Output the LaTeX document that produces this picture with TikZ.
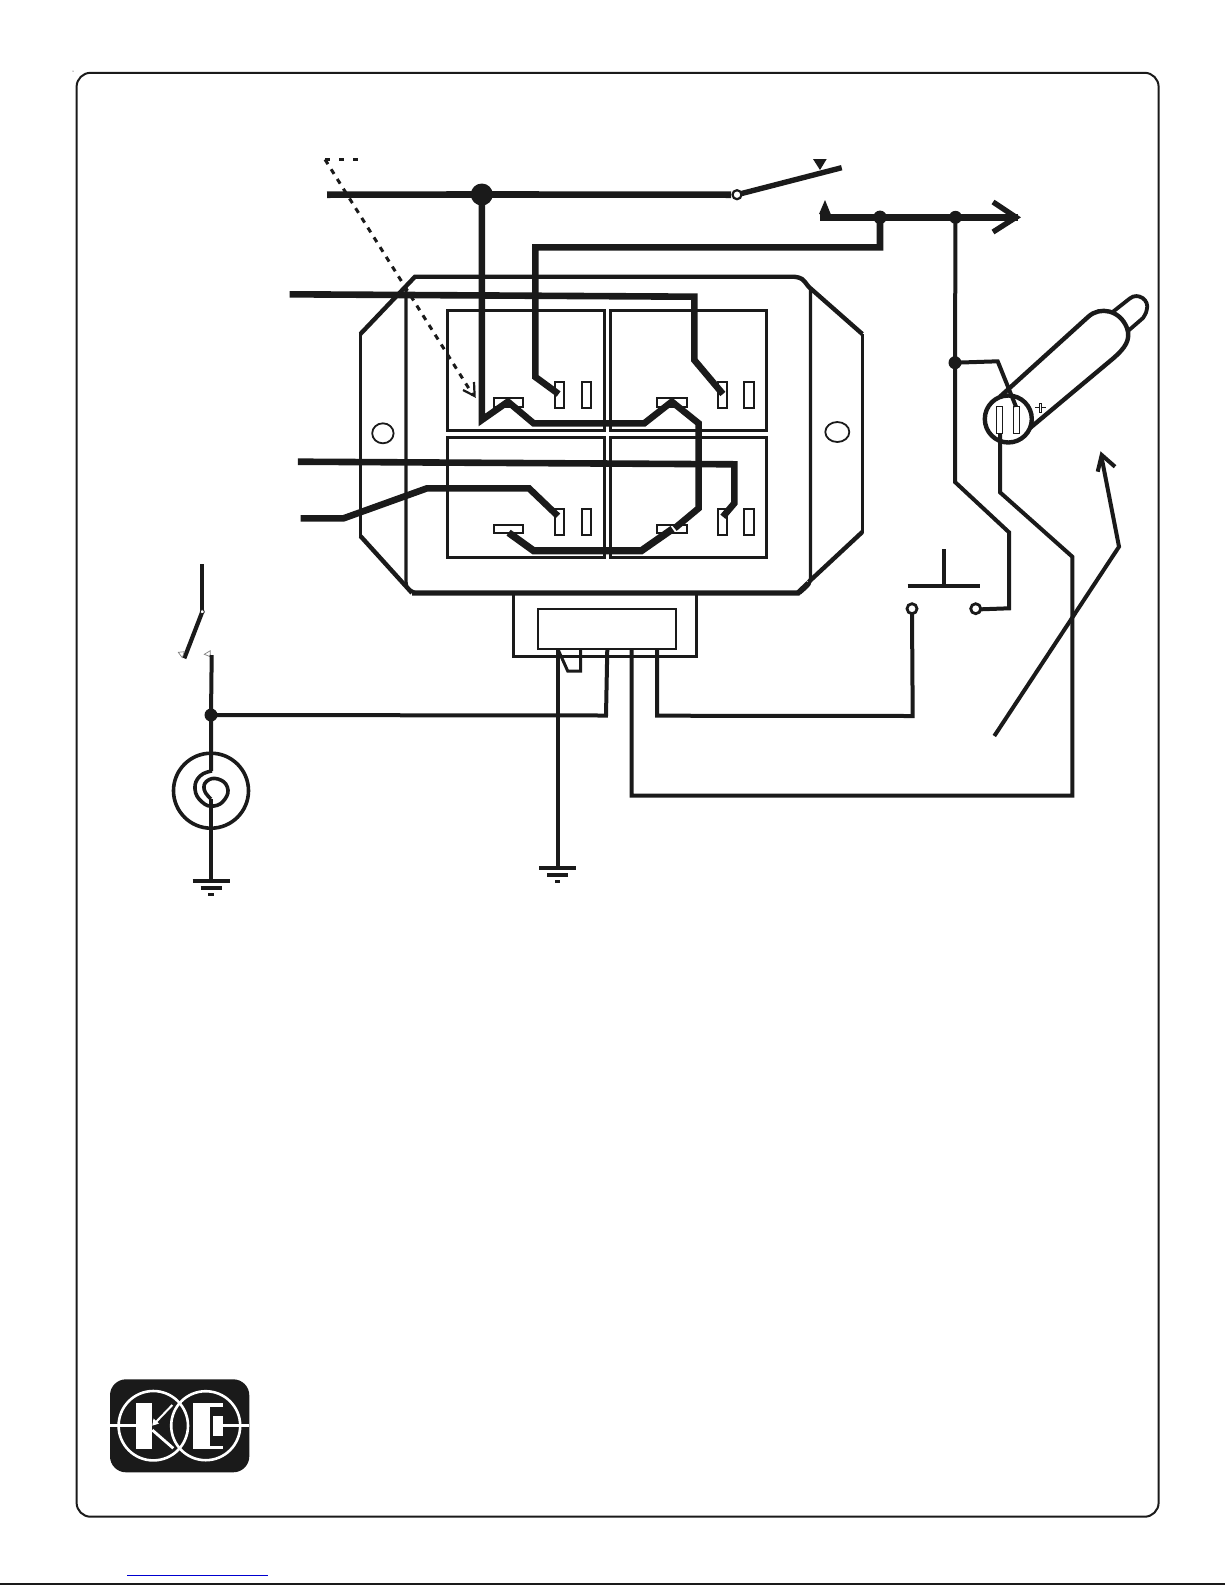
\documentclass[tikz,border=0pt]{standalone}
\usepackage{tikz}
\definecolor{inkblack}{HTML}{1A1A1A}
\definecolor{linkblue}{HTML}{0000D0}
\tikzset{
    wirethick/.style={draw=inkblack,line width=6.6pt},
    wirethin/.style={draw=inkblack,line width=4pt},
    boxline/.style={draw=inkblack,line width=3pt},
    termrect/.style={draw=inkblack,fill=white,line width=2pt},
    dotjunc/.style={circle,fill=inkblack,inner sep=0pt,minimum size=13.5pt},
    ringterm/.style={circle,draw=inkblack,fill=white,line width=2.8pt,inner sep=0pt,minimum size=10pt},
    openmark/.style={draw=gray,fill=white,line width=.7pt},
}
\begin{document}
\begin{tikzpicture}[x=1pt,y=-1pt]
    \useasboundingbox (0,0) rectangle (1225,1585);
    % page frame
    \draw[inkblack,line width=2pt,rounded corners=14pt] (76.6,72.8) rectangle (1158.6,1516.7);
    \fill[inkblack] (73,71) circle (.5);
    \draw[linkblue,line width=1.3pt] (127.3,1575.3) -- (268,1575.3);
    \draw[inkblack,line width=2pt] (0,1584) -- (1225,1584);

    % regulator housing
    \draw[boxline,line width=3.4pt] (360.4,332.7) -- (360.4,537.3);
    \draw[boxline,line width=3.4pt] (862.3,334) -- (862.3,533);
    \draw[inkblack,line width=4.4pt] (360.4,334) -- (415,276.7) -- (794,276.7) .. controls (802,278) .. (808.6,286.7) -- (862.3,334);
    \draw[inkblack,line width=4.4pt] (360.4,536) -- (412,593);
    \draw[inkblack,line width=4.4pt] (862.3,532) -- (808.6,582);
    \draw[boxline,line width=3.2pt] (406,289) -- (406,575) .. controls (406,588) .. (416,593);
    \draw[boxline,line width=3.2pt] (810.4,288) -- (810.4,575) .. controls (810.4,584) .. (800,593);
    \draw[inkblack,line width=5.4pt] (412,593) -- (798,593) -- (808.6,583);
    \draw[inkblack,line width=1.8pt] (382.9,433.3) ellipse (10.7 and 10);
    \draw[inkblack,line width=1.8pt] (837.3,432) ellipse (12 and 10);

    % relay squares and their terminals
    \foreach \xa/\xb in {447.9/604.3,610.4/766.8}{
        \draw[boxline] (\xa,310) rectangle (\xb,430.7);
        \draw[boxline] (\xa,437.3) rectangle (\xb,557.3);
    }
    \foreach \y/\yb in {381.7/408.3,509/535}{
        \foreach \x in {555,581.8,717.9,744.3}{
            \draw[termrect] (\x,\y) rectangle ++(9.2,\yb-\y);
        }
    }
    \foreach \y in {398.3,525}{
        \foreach \x in {493.6,656.8}{
            \draw[termrect] (\x,\y) rectangle ++(29.8,8.4);
        }
    }

    % connector block
    \draw[boxline] (513.5,593) -- (513.5,656.3) -- (696.9,656.3) -- (696.9,593);
    \draw[termrect,line width=2.2pt] (537.7,609) rectangle (676,648.7);

    % junctions and terminals
    \node[dotjunc,minimum size=22pt] (busjunc) at (481.8,194.5) {};
    \node[dotjunc] (outjunc) at (880,217.3) {};
    \node[dotjunc,minimum size=13pt] (feedjunc) at (955.5,217.3) {};
    \node[dotjunc,minimum size=13pt] (lampjunc) at (955,362.7) {};
    \node[dotjunc,minimum size=13pt] (sensejunc) at (211,715) {};
    \coordinate (pinearth) at (557.7,648.7);
    \coordinate (pinsense) at (607.3,648.7);
    \coordinate (pinlamp) at (631.7,648.7);
    \coordinate (pinbutton) at (657,648.7);
    \coordinate (earthmain) at (557.7,867.7);
    \coordinate (earthsense) at (211,880.7);

    % charge warning tube
    \draw[inkblack,line width=4.4pt] (1008.3,419) circle (23.5);
    \draw[inkblack,line width=4.4pt] (1000,396.7) -- (1088.3,316.7) .. controls (1100,306) and (1120,310) .. (1127,328) .. controls (1131,340) and (1125,348) .. (1113.3,358.3) -- (1030,428);
    \draw[inkblack,line width=3.8pt] (1113,311.7) -- (1130,298.3) .. controls (1138,292) and (1150,300) .. (1146.7,310) .. controls (1146,314) and (1144,316) .. (1143,318) -- (1128,331);
    \draw[termrect,line width=1.4pt] (996.7,406.7) rectangle (1002.6,433.3);
    \draw[termrect,line width=1.4pt] (1013.3,406.7) rectangle (1019.3,433.3);
    \draw[inkblack,line width=1.2pt] (1035,407.7) -- (1046,407.7);
    \draw[termrect,line width=1.2pt] (1039.3,403.3) rectangle (1041.7,412.7);

    % heavy wiring
    \draw[wirethick] (327,194.7) -- (busjunc.center) -- (731,194.7);
    \draw[wirethick] (busjunc.center) -- (481.8,420) -- (507.9,401.7) -- (533.6,423.3) -- (644.3,423.3) -- (671.8,401.7) -- (698.6,423.3) -- (698.6,508.3) -- (674.6,528.3);
    \draw[wirethick,line width=7.2pt] (508.6,532.7) -- (533.6,550.7) -- (641.4,550.7) -- (672.5,529);
    \draw[wirethick] (558.6,394) -- (535.4,377) -- (535.4,247.3) -- (880,247.3) -- (outjunc.center);
    \draw[wirethick] (289.6,294.3) -- (694.3,296.7) -- (694.3,360) -- (722.9,394);
    \draw[wirethick] (297.9,461.7) -- (734.3,464.3) -- (734.3,503.3) -- (722.9,516.7);
    \draw[wirethick] (300.7,518.3) -- (343.6,518.3) -- (427,488.3) -- (529,488.3) -- (557.9,516);
    \draw[wirethick] (820,217.3) -- (outjunc.center) -- (feedjunc.center) -- (1018,217.3);
    \draw[inkblack,line width=5.4pt] (993,202) -- (1016,217.3) -- (993,232);

    % main switch
    \draw[inkblack,line width=5.4pt] (737,194.7) -- (841.7,167.7);
    \node[ringterm,line width=2.2pt,minimum size=9pt] (mainpivot) at (737,194.7) {};
    \fill[inkblack] (813,159) -- (826.7,159) -- (820,170) -- cycle;
    \fill[inkblack] (825,200) -- (830.7,214) -- (819,214) -- cycle;

    % sense lead, dashed
    \draw[inkblack,line width=3pt,dash pattern=on 5pt off 9pt] (325,159.5) -- (362,159.5);
    \draw[inkblack,line width=3pt,dash pattern=on 5.5pt off 6pt] (325,159.5) -- (473,395);
    \draw[inkblack,line width=2.2pt] (463,390) -- (474.6,396) -- (474,382);

    % light wiring
    \draw[wirethin] (feedjunc.center) -- (lampjunc.center) -- (955,482) -- (1009,532.3) -- (1009,608.3) -- (981,609.3);
    \draw[wirethin] (lampjunc.center) -- (997.7,361.3) -- (1016,406.7);
    \draw[wirethin] (1000,433) -- (1000,492.3) -- (1072.3,556.7) -- (1072.3,795.5) -- (631.7,795.5) -- (pinlamp);
    \draw[wirethin] (pinbutton) -- (657,715.7) -- (912.7,716) -- (912,614);
    \draw[wirethin] (pinsense) -- (606,715.5) -- (sensejunc.center);
    \draw[wirethin] (pinearth) -- (earthmain);
    \draw[inkblack,line width=3pt] (pinearth) -- (567.7,671) -- (580.7,671) -- (580.7,648.7);
    \node[ringterm] (buttonleft) at (912,608.7) {};
    \node[ringterm] (buttonright) at (975.7,608.7) {};
    \draw[inkblack,line width=4.4pt] (907.7,586) -- (980,586);
    \draw[inkblack,line width=4.4pt] (944,549) -- (944,586);

    % long pointer
    \draw[wirethin] (994.3,736) -- (1119,546.7) -- (1101.7,458);
    \draw[inkblack,line width=4pt] (1097.7,471.7) -- (1101.7,455) -- (1115,466.7);

    % left switch and warning lamp
    \draw[inkblack,line width=4.2pt] (202.3,564) -- (202.3,611.7);
    \draw[inkblack,line width=4.2pt] (202.3,611.7) -- (184.3,658.3);
    \node[ringterm,line width=.8pt,minimum size=4pt] (leftpivot) at (202.3,611.7) {};
    \draw[openmark] (178.3,652.3) -- (184.3,651.7) -- (182.3,657.7) -- cycle;
    \draw[openmark] (204.3,654.3) -- (210.3,650.7) -- (210.3,656.7) -- cycle;
    \draw[wirethin] (211.7,655) -- (sensejunc.center) -- (211,771);
    \draw[inkblack,line width=3.6pt] (211,790.7) circle (37.5);
    \draw[inkblack,line width=3.6pt] plot[smooth,tension=.8] coordinates {(212,771) (200,776) (195,789) (202,802) (214,806) (225,799) (227.3,787) (218,779) (207,781) (204.3,790) (211,799)};
    \draw[wirethin] (211,799) -- (earthsense);

    % earth symbols
    \foreach \gx/\gy in {557.7/867.7,211/880.7}{
        \draw[inkblack,line width=4.4pt] (\gx-18.5,\gy) -- (\gx+18.5,\gy);
        \draw[inkblack,line width=3.4pt] (\gx-10.5,\gy+7.3) -- (\gx+10.5,\gy+7.3);
        \draw[inkblack,line width=3.4pt] (\gx-2.6,\gy+14) -- (\gx+2.6,\gy+14);
    }

    % maker mark
    \fill[inkblack,rounded corners=16pt] (110,1379.3) rectangle (249.3,1472.3);
    \draw[white,line width=2.6pt] (153.3,1425.7) circle (34.7);
    \draw[white,line width=2.6pt] (205.7,1425.7) circle (34.5);
    \draw[white,line width=3.5pt] (110,1425.7) -- (137,1425.7);
    \draw[white,line width=3.5pt] (223,1425.7) -- (249.3,1425.7);
    \fill[white] (136,1402.7) rectangle (152.3,1448.7);
    \draw[white,line width=2pt] (172.3,1405) -- (155,1423);
    \fill[white] (152.3,1425.7) -- (153.5,1418.5) -- (159,1423.5) -- cycle;
    \draw[white,line width=2.8pt] (152.3,1430) -- (173.3,1448.3);
    \fill[white] (193.3,1402.7) rectangle (210,1448.7);
    \fill[white] (210,1402.7) rectangle (223.3,1406.7);
    \fill[white] (210,1445.7) rectangle (223.3,1448.7);
    \fill[white] (213.3,1416) rectangle (223.3,1436);
\end{tikzpicture}
\end{document}
